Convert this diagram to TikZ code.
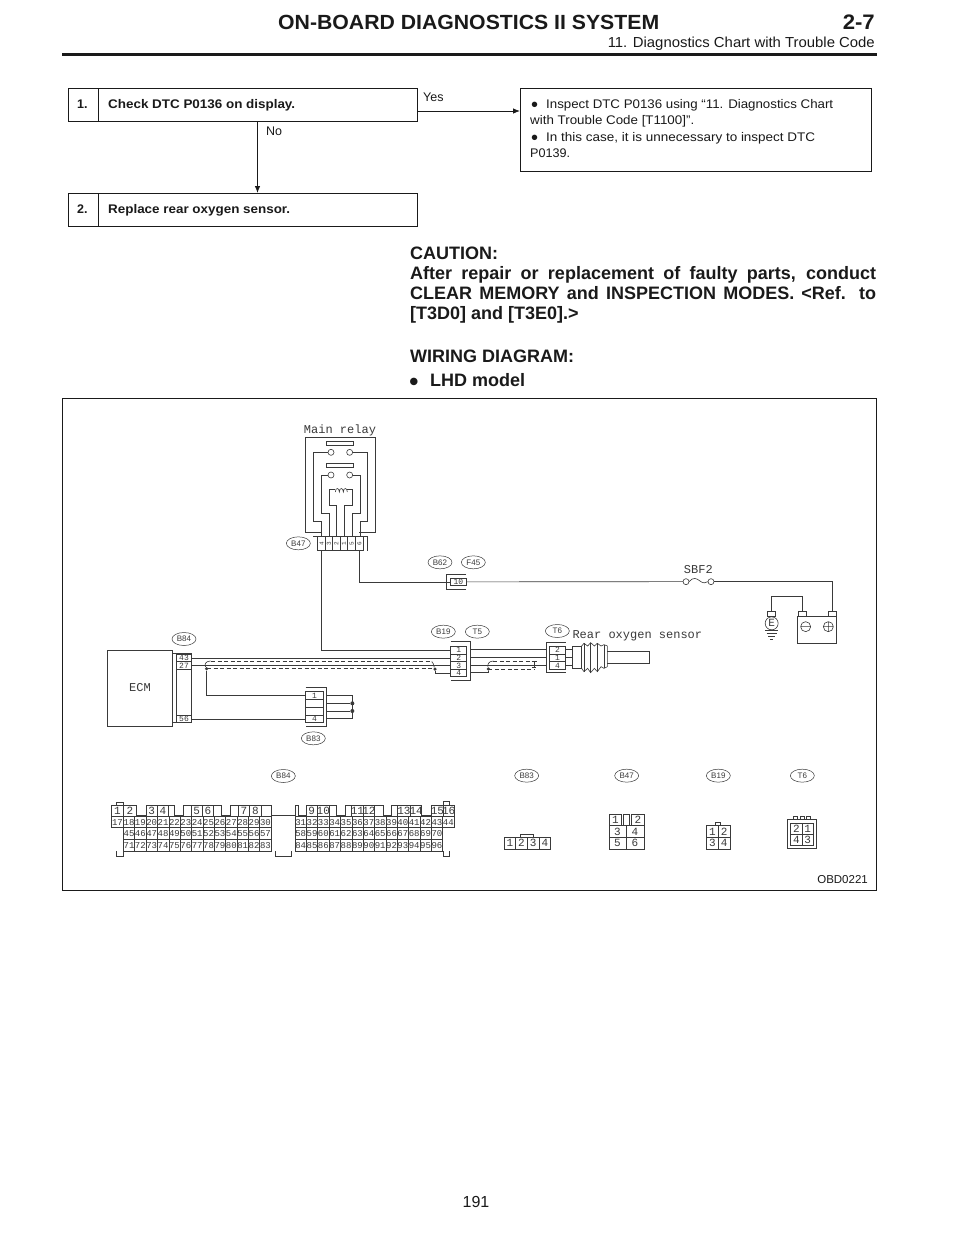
\documentclass[tikz,border=0pt]{standalone}
\usepackage{fontspec}
\usepackage{graphicx}
\setmainfont{Liberation Sans}
\newfontfamily\plotfont{Liberation Mono}
\usetikzlibrary{shapes.geometric,arrows.meta}
\definecolor{ink}{HTML}{1A1A1A}
\definecolor{wirecol}{HTML}{3A3A3A}
\newcommand\fitw[2]{\resizebox{#1pt}{\height}{#2}}
\newcommand\fs[1]{\fontsize{#1}{#1}\selectfont}
\newcommand\pinf{\fs{9}\plotfont}
\newcommand\cellnode[6]{%
  \pgfmathsetmacro\cellw{abs(#4-#2)/3}\pgfmathsetmacro\cellh{abs(#5-#3)/3}%
  \pgfmathsetmacro\cellx{(#4+#2)/2}\pgfmathsetmacro\celly{(#5+#3)/2}%
  \node[pincell,minimum width=\cellw pt,minimum height=\cellh pt] (#1) at (\cellx,\celly) {#6};}
\newcommand\tagnode[4]{\node[tagoval] (#1) at (#2,#3) {#4};}
\tikzset{
  wire/.style={draw=wirecol,line width=0.6pt},
  shield/.style={draw=wirecol,line width=0.6pt,dash pattern=on 4pt off 2.5pt},
  pincell/.style={draw=wirecol,line width=0.5pt,inner sep=0pt,text=wirecol,font=\pinf},
  tagoval/.style={ellipse,draw=wirecol,line width=0.5pt,inner sep=0pt,minimum width=24pt,minimum height=13pt,text=wirecol,font=\fs{8}},
  plotlabel/.style={text=wirecol,inner sep=0pt,font=\fs{12}\plotfont},
  flowbox/.style={draw=ink,line width=0.9pt,anchor=north west,inner sep=0pt},
  flowarrow/.style={draw=ink,line width=0.8pt,-{Latex[length=7pt,width=5.5pt]}},
  ptext/.style={anchor=base west,inner sep=0pt,text=ink},
  dot/.style={circle,fill=wirecol,inner sep=0pt,minimum size=4pt},
  z1/.style={shift={(270pt,-410pt)},x=0.33333pt,y=-0.33333pt},
  z2/.style={shift={(100pt,-610pt)},x=0.33333pt,y=-0.33333pt},
  z3/.style={shift={(400pt,-550pt)},x=0.33333pt,y=-0.33333pt},
  z4/.style={shift={(100pt,-765pt)},x=0.33333pt,y=-0.33333pt},
  z5/.style={shift={(480pt,-765pt)},x=0.33333pt,y=-0.33333pt},
}
\begin{document}
\begin{tikzpicture}[x=1pt,y=-1pt]
\useasboundingbox (0,0) rectangle (960,1242);
\fill[white] (0,0) rectangle (960,1242);
% header
\node[ptext,font=\fs{20.5}\bfseries] (title) at (278,29) {\fitw{381}{ON-BOARD DIAGNOSTICS II SYSTEM}};
\node[ptext,font=\fs{21}\bfseries,anchor=base east] (secno) at (875,29) {\fitw{32}{2-7}};
\node[ptext,font=\fs{14.5},anchor=base east] (subtitle) at (875,47) {\fitw{267}{11. Diagnostics Chart with Trouble Code}};
\draw[ink,line width=3pt] (62,54) -- (877,54);
% flow chart
\node[flowbox,minimum width=349pt,minimum height=33pt] (b1) at (68,88) {};
\node[flowbox,minimum width=349pt,minimum height=33pt] (b2) at (68,193) {};
\node[flowbox,minimum width=351pt,minimum height=83pt] (b3) at (520,88) {};
\draw[ink,line width=0.9pt] (98,88) -- (98,121) (98,193) -- (98,226);
\node[ptext,font=\fs{12.5}\bfseries] (n1) at (77,108) {1.};
\node[ptext,font=\fs{12.5}\bfseries] (n2) at (77,213) {2.};
\node[ptext,font=\fs{12.5}\bfseries] (t1) at (108,108) {\fitw{187}{Check DTC P0136 on display.}};
\node[ptext,font=\fs{12.5}\bfseries] (t2) at (108,213) {\fitw{182}{Replace rear oxygen sensor.}};
\coordinate (nox) at (257.5,0);
\coordinate (yesy) at (0,111);
\draw[flowarrow] (nox |- b1.south) -- (nox |- b2.north);
\draw[flowarrow] (b1.east |- yesy) -- (b3.west |- yesy);
\node[ptext,font=\fs{12.5}] (yes) at (423,101.5) {Yes};
\node[ptext,font=\fs{12.5}] (no) at (266,135.5) {No};
\node[ptext,font=\fs{20},anchor=base] (bu1) at (534.5,111.4) {•};
\node[ptext,font=\fs{12.5}] (l1) at (546,108) {\fitw{287}{Inspect DTC P0136 using “11. Diagnostics Chart}};
\node[ptext,font=\fs{12.5}] (l2) at (530,124.5) {\fitw{164}{with Trouble Code [T1100]”.}};
\node[ptext,font=\fs{20},anchor=base] (bu2) at (534.5,144.4) {•};
\node[ptext,font=\fs{12.5}] (l3) at (546,141.5) {\fitw{269}{In this case, it is unnecessary to inspect DTC}};
\node[ptext,font=\fs{12.5}] (l4) at (530,157.5) {\fitw{40}{P0139.}};
% caution
\node[ptext,font=\fs{18}\bfseries] (c1) at (410,259.5) {CAUTION:};
\node[ptext,font=\fs{18}\bfseries] (c2) at (410,279.5) {\makebox[466pt][s]{After repair or replacement of faulty parts, conduct}};
\node[ptext,font=\fs{18}\bfseries] (c3) at (410,299.5) {\makebox[466pt][s]{CLEAR MEMORY and INSPECTION MODES. <Ref. to}};
\node[ptext,font=\fs{18}\bfseries] (c4) at (410,319.5) {[T3D0] and [T3E0].>};
\node[ptext,font=\fs{18}\bfseries] (c5) at (410,362.5) {WIRING DIAGRAM:};
\node[ptext,font=\fs{26}\bfseries,anchor=base] (c6) at (414,390.6) {•};
\node[ptext,font=\fs{18}\bfseries] (c7) at (430,386.5) {LHD model};
% frame
\node[draw=ink,line width=0.9pt,anchor=north west,inner sep=0pt,minimum width=814pt,minimum height=492pt] (frame) at (62,398) {};
\node[ptext,font=\fs{11.5},anchor=base east] (code) at (868,883) {OBD0221};
\node[ptext,font=\fs{16},anchor=base] (page) at (476,1207) {191};
% main relay
\begin{scope}[z1]
  \node[plotlabel,anchor=center] (mrl) at (210,62) {Main relay};
  \tagnode{tb47}{85}{400}{B47}
  \draw[wire] (155,366) -- (107,366) -- (107,82) -- (315,82) -- (315,366) -- (268,366);
  \draw[wire] (170,95) rectangle (250,105);
  \draw[wire] (170,160) rectangle (250,172);
  \foreach \xx/\yy in {183/127,239/127,183/195,239/195} \draw[wire] (\xx,\yy) circle (3pt);
  \draw[wire] (174,127) -- (130,127) -- (130,335) -- (155,335) -- (155,378);
  \draw[wire] (248,127) -- (292,127) -- (292,335) -- (270,335) -- (270,378);
  \draw[wire] (174,195) -- (155,195) -- (155,310) -- (178,310) -- (178,378);
  \draw[wire] (248,195) -- (270,195) -- (270,310) -- (247,310) -- (247,378);
  \draw[wire] (196,238) -- (178,238) -- (178,285) -- (200,285) -- (200,378);
  \draw[wire] (232,238) -- (247,238) -- (247,285) -- (222,285) -- (222,378);
  \draw[wire] (196,246) .. controls (196,232) and (208,232) .. (208,246)
              .. controls (208,232) and (220,232) .. (220,246)
              .. controls (220,232) and (232,232) .. (232,246);
  \draw[wire] (130,378) -- (292,378) (142,378) -- (142,422) -- (280,422) -- (280,378) (292,378) -- (292,422);
  \foreach \xx in {165,188,210,233,257} \draw[wire] (\xx,378) -- (\xx,422);
  \foreach \xx/\dd in {155/4,177/3,199/2,222/1,245/5,268/6} \node[text=wirecol,inner sep=0pt,rotate=90,font=\fs{6}\plotfont] (rp\dd) at (\xx,400) {\dd};
  \coordinate (relayL) at (155,422);
  \coordinate (relayR) at (268,422);
\end{scope}
% ECM + connectors left
\begin{scope}[z2]
  \def\pinf{\fs{8}\plotfont}
  \node[draw=wirecol,line width=0.6pt,inner sep=0pt,minimum width=65.3pt,minimum height=76pt,text=wirecol,font=\fs{12}\plotfont] (ecm) at (120,234) {ECM};
  \tagnode{tb84}{252}{87}{B84}
  \tagnode{tb83}{640}{385}{B83}
  \draw[wire] (218,130) -- (275,130) -- (275,338) -- (218,338);
  \draw[wire] (229,130) -- (229,338);
  \cellnode{e43}{229}{132}{275}{155}{43}
  \cellnode{e27}{229}{155}{275}{177}{27}
  \cellnode{e56}{229}{316}{275}{338}{56}
  \draw[wire] (617,233) -- (678,233) -- (678,348) -- (617,348);
  \cellnode{k1}{617}{245}{670}{268}{1}
  \cellnode{k2}{617}{268}{670}{292}{}
  \cellnode{k3}{617}{292}{670}{315}{}
  \cellnode{k4}{617}{315}{670}{337}{4}
  \node[dot] (j1) at (757,280) {};
  \node[dot] (j2) at (757,303) {};
  \node[dot,minimum size=3.5pt] (sd1) at (320,176) {};
  \draw[wire] (678,257) -- (757,257) -- (757,325) -- (678,325);
  \draw[wire] (678,280) -- (j1);
  \draw[wire] (678,303) -- (j2);
  \draw[wire] (sd1) |- (k1.west);
  \draw[wire] (e56.east) -- (e56.east -| k4.west);
  \draw[wire] (sd1) .. controls (313,165) and (315,153) .. (332,153);
\end{scope}
% B19, T6, sensor, battery
\begin{scope}[z3]
  \def\pinf{\fs{8}\plotfont}
  \tagnode{tb62}{120}{37}{B62}
  \tagnode{tf45}{220}{37}{F45}
  \tagnode{tb19}{130}{245}{B19}
  \tagnode{tt5}{232}{245}{T5}
  \tagnode{tt6}{472}{243}{T6}
  \node[plotlabel,anchor=west] (rs) at (517,256) {Rear oxygen sensor};
  \node[plotlabel,anchor=center] (sbf) at (895,60) {SBF2};
  \draw[wire] (198,72) -- (140,72) -- (140,118) -- (198,118);
  \cellnode{fc}{150}{85}{200}{106}{10}
  \draw[wire] (152,275) -- (212,275) -- (212,392) -- (152,392);
  \cellnode{bc1}{152}{288}{200}{312}{1}
  \cellnode{bc2}{152}{312}{200}{335}{2}
  \cellnode{bc3}{152}{335}{200}{358}{3}
  \cellnode{bc4}{152}{358}{200}{380}{4}
  \draw[wire] (497,278) -- (438,278) -- (438,368) -- (497,368);
  \cellnode{tp2}{448}{288}{497}{312}{2}
  \cellnode{tp1}{448}{312}{497}{335}{1}
  \cellnode{tp4}{448}{335}{497}{358}{4}
  \draw[wire] (212,298) -- (438,298) (212,322) -- (438,322) (212,347) -- (438,347);
  \node[dot,minimum size=3.5pt] (sd2) at (105,357) {};
  \node[dot,minimum size=3.5pt] (sd3) at (265,357) {};
  \draw[wire] (sd2) |- (bc4.west);
  \draw[wire] (sd3) |- (212,367);
  \draw[wire] (sd3) .. controls (262,345) and (265,333) .. (280,333);
  \draw[wire] (sd2) .. controls (100,345) and (100,335) .. (95,335);
  \draw[shield] (280,333) -- (405,333) (265,357) -- (405,357);
  \draw[wire] (395,335) -- (410,335) (402,335) -- (402,352) (397,352) -- (407,352);
  % sensor
  \draw[wire] (497,298) -- (517,298) (497,322) -- (517,322) (497,347) -- (517,347);
  \draw[wire] (517,288) rectangle (545,355);
  \draw[wire] (545,288) -- (552,280) -- (563,288) -- (572,278) -- (583,288) -- (592,280) -- (603,288) -- (612,284) -- (622,288) -- (622,350) -- (612,355) -- (603,350) -- (592,365) -- (583,355) -- (572,368) -- (563,355) -- (552,365) -- (545,355);
  \draw[wire] (552,280) -- (552,365) (572,278) -- (572,368) (592,280) -- (592,365) (612,284) -- (612,355);
  \draw[wire] (622,305) -- (748,305) -- (748,340) -- (622,340);
  \draw[wire] (fc.east) -- (849,95);
  \draw[wire] (858,95) circle (3pt) (933,95) circle (3pt);
  \draw[wire] (867,95) .. controls (880,80) and (890,85) .. (900,93) .. controls (908,100) and (918,100) .. (924,95);
  \draw[wire] (942,95) -- (1298,95) -- (1298,185);
  % battery & earth
  \node[draw=wirecol,line width=0.6pt,inner sep=0pt,minimum width=39pt,minimum height=26.7pt] (batt) at (1251,240) {};
  \draw[wire] (1195,185) rectangle (1218,200) (1285,185) rectangle (1310,200);
  \draw[wire] (1217,230) circle (5pt) (1202,230) -- (1232,230);
  \draw[wire] (1285,230) circle (5pt) (1270,230) -- (1300,230) (1285,215) -- (1285,245);
  \node[circle,draw=wirecol,line width=0.6pt,inner sep=0pt,minimum size=13pt,text=wirecol,font=\fs{11}\plotfont] (earth) at (1115,220) {E};
  \draw[wire] (1103,185) rectangle (1127,200);
  \draw[wire] (1113,185) -- (1113,138) -- (1207,138) -- (1207,185);
  \draw[wire] (1095,240) -- (1135,240) (1100,250) -- (1130,250) (1105,258) -- (1125,258) (1110,267) -- (1120,267);
\end{scope}
% long wires
\draw[wire] (relayL) -- (relayL |- bc1.west) -- (bc1.west);
\draw[wire] (relayR) |- (fc.west);
\draw[wire] (e43.east) -- (e43.east -| bc2.west);
\draw[wire] (e27.east) -- (e27.east -| bc3.west);
\draw[shield] (211,661) -- (432,661) (207,668.7) -- (435,668.7);
% pinouts
\begin{scope}[z4]
  \def\pinf{\fs{9}\plotfont}
  \tagnode{tb84b}{550}{33}{B84}
  \draw[wire] (35,155) -- (35,120) -- (110,120) -- (110,150) -- (138,150) -- (138,120) -- (222,120) -- (222,150) -- (250,150) -- (250,120) -- (365,120) -- (365,150) -- (392,150) -- (392,120) -- (513,120) -- (513,150) -- (585,150) -- (585,120) -- (595,120) -- (595,150) -- (618,150) -- (618,120) -- (710,120) -- (710,150) -- (735,150) -- (735,120) -- (850,120) -- (850,150) -- (875,150) -- (875,120) -- (965,120) -- (965,150) -- (995,150) -- (995,120) -- (1062,120) -- (1062,155);
  \draw[wire] (50,120) -- (50,112) -- (70,112) -- (70,120) (1030,120) -- (1030,110) -- (1048,110) -- (1048,120);
  \draw[wire] (50,258) -- (50,275) -- (70,275) -- (70,258) (525,258) -- (525,275) -- (575,275) -- (575,258) (1030,258) -- (1030,275) -- (1048,275) -- (1048,258);
  \draw[wire] (35,155) -- (35,188) -- (70,188) (1028,188) -- (1062,188) -- (1062,155) (70,188) -- (70,258) (1028,188) -- (1028,258) (513,188) -- (513,258) (585,188) -- (585,258);
  \foreach \n/\xa/\xb in {1/35/70,2/70/110,3/138/172,4/172/205,5/273/307,6/307/341,7/415/449,8/449/483,9/618/652,10/652/688,11/755/790,12/790/824,13/892/932,14/932/965,15/995/1030,16/1030/1062}{
    \draw[wire] (\xa,120) -- (\xa,155) (\xb,120) -- (\xb,155);
    \pgfmathsetmacro\cellx{(\xa+\xb)/2}
    \node[text=wirecol,inner sep=0pt,font=\fs{11}\plotfont] (p\n) at (\cellx,137) {\n};
  }
  \cellnode{p17}{35}{155}{70}{188}{17}
  \foreach \n in {18,...,30}{\pgfmathsetmacro\xa{70+(\n-18)*34.1}\pgfmathsetmacro\xb{\xa+34.1}\cellnode{p\n}{\xa}{155}{\xb}{188}{\n}}
  \foreach \n in {31,...,44}{\pgfmathsetmacro\xa{585+(\n-31)*34.07}\pgfmathsetmacro\xb{\xa+34.07}\cellnode{p\n}{\xa}{155}{\xb}{188}{\n}}
  \foreach \n in {45,...,57}{\pgfmathsetmacro\xa{70+(\n-45)*34.1}\pgfmathsetmacro\xb{\xa+34.1}\cellnode{p\n}{\xa}{188}{\xb}{223}{\n}}
  \foreach \n in {58,...,70}{\pgfmathsetmacro\xa{585+(\n-58)*34.07}\pgfmathsetmacro\xb{\xa+34.07}\cellnode{p\n}{\xa}{188}{\xb}{223}{\n}}
  \foreach \n in {71,...,83}{\pgfmathsetmacro\xa{70+(\n-71)*34.1}\pgfmathsetmacro\xb{\xa+34.1}\cellnode{p\n}{\xa}{223}{\xb}{258}{\n}}
  \foreach \n in {84,...,96}{\pgfmathsetmacro\xa{585+(\n-84)*34.07}\pgfmathsetmacro\xb{\xa+34.07}\cellnode{p\n}{\xa}{223}{\xb}{258}{\n}}
\end{scope}
\begin{scope}[z5]
  \def\pinf{\fs{11}\plotfont}
  \tagnode{tb83b}{140}{32}{B83}
  \tagnode{tb47b}{440}{32}{B47}
  \tagnode{tb19b}{715}{32}{B19}
  \tagnode{tt6b}{967}{32}{T6}
  \cellnode{a1}{72}{217}{107}{252}{1}
  \cellnode{a2}{107}{217}{142}{252}{2}
  \cellnode{a3}{142}{217}{177}{252}{3}
  \cellnode{a4}{177}{217}{212}{252}{4}
  \draw[wire] (122,217) -- (122,207) -- (160,207) -- (160,217);
  \cellnode{c1p}{387}{148}{425}{182}{1}
  \cellnode{c2p}{455}{148}{492}{182}{2}
  \draw[wire] (430,182) -- (430,148) -- (448,148) -- (448,182);
  \cellnode{c3p}{387}{182}{438}{217}{3}
  \cellnode{c4p}{438}{182}{492}{217}{4}
  \cellnode{c5p}{387}{217}{438}{252}{5}
  \cellnode{c6p}{438}{217}{492}{252}{6}
  \cellnode{d1}{680}{182}{715}{217}{1}
  \cellnode{d2}{715}{182}{750}{217}{2}
  \cellnode{d3}{680}{217}{715}{252}{3}
  \cellnode{d4}{715}{217}{750}{252}{4}
  \draw[wire] (705,182) -- (705,172) -- (722,172) -- (722,182);
  \draw[wire] (922,162) rectangle (1010,250);
  \cellnode{g2}{932}{175}{966}{207}{2}
  \cellnode{g1}{966}{175}{1000}{207}{1}
  \cellnode{g4}{932}{207}{966}{240}{4}
  \cellnode{g3}{966}{207}{1000}{240}{3}
  \draw[wire] (940,162) -- (940,155) -- (952,155) -- (952,162) (960,162) -- (960,155) -- (972,155) -- (972,162) (980,162) -- (980,155) -- (992,155) -- (992,162);
\end{scope}
\end{tikzpicture}
\end{document}
